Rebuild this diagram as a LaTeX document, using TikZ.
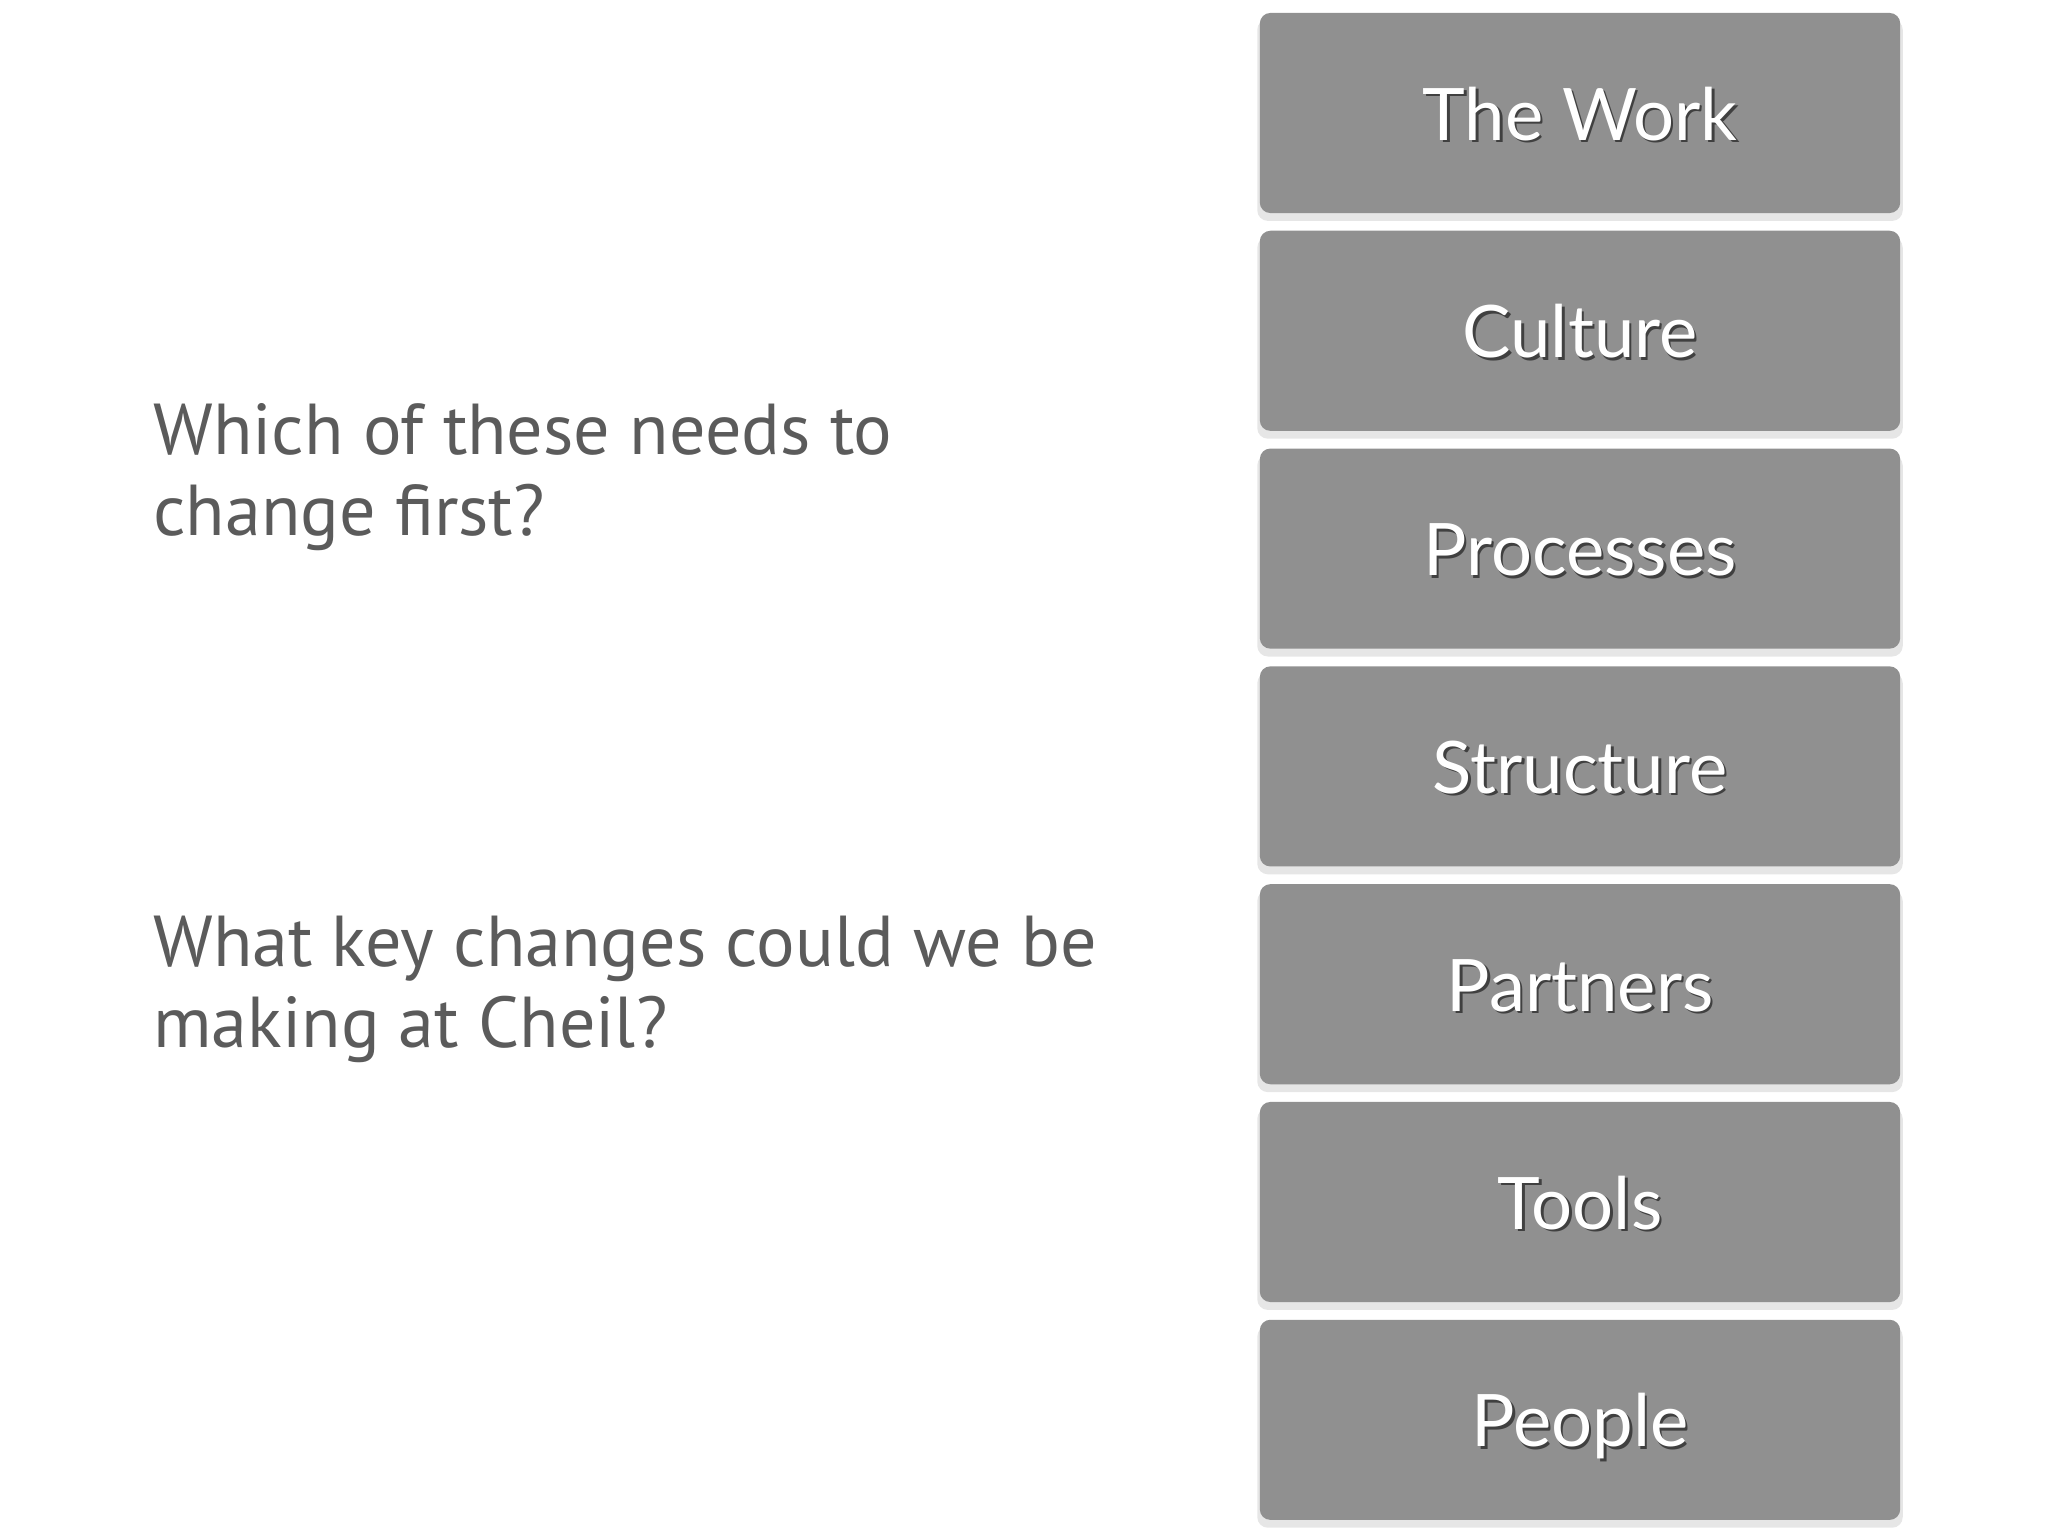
\documentclass[tikz,border=0pt]{standalone}
\usepackage{fontspec}
\setmainfont{PT Sans}
\newfontfamily\layerfont{Lato}
\usetikzlibrary{calc,shadows}
\definecolor{layergray}{HTML}{909090}
\definecolor{asktext}{HTML}{5B5B5B}
\def\layernode{\node[rectangle,rounded corners=3pt,fill=layergray,minimum width=6.4cm,minimum height=2cm,
  drop shadow={shadow xshift=0pt,shadow yshift=-0.7mm,shadow scale=1.008,opacity=0.2}]}
\def\asknode{\node[anchor=base west,align=left,text=asktext,font=\fontsize{20.5}{22.8}\selectfont]}
% white label with a dark shadow just below it
\newcommand{\layerlabel}[2]{%
  \node[anchor=base,text=black,opacity=0.55,font=\layerfont\fontsize{20.6}{24}\selectfont]
    (#1_sh) at ($ (#1.center) + (2.5,-29.5) $) {#2};
  \node[anchor=base,text=white,font=\layerfont\fontsize{20.6}{24}\selectfont]
    (#1_lbl) at ($ (#1.center) + (0,-27) $) {#2};}

\begin{document}
\begin{tikzpicture}[x=0.01cm,y=0.01cm]
\useasboundingbox (0,0) rectangle (2048,-1536);
\coordinate (o) at (1580,-113); % boxes are relative to (o)

% The stack of layers
\layernode (work) at (o) {};
\layernode (culture) at ($ (o) + (0,-217.8) $) {};
\layernode (processes) at ($ (o) + (0,-435.6) $) {};
\layernode (structure) at ($ (o) + (0,-653.4) $) {};
\layernode (partners) at ($ (o) + (0,-871.2) $) {};
\layernode (tools) at ($ (o) + (0,-1089) $) {};
\layernode (people) at ($ (o) + (0,-1306.8) $) {};

\layerlabel{work}{The Work}
\layerlabel{culture}{Culture}
\layerlabel{processes}{Processes}
\layerlabel{structure}{Structure}
\layerlabel{partners}{Partners}
\layerlabel{tools}{Tools}
\layerlabel{people}{People}

% Questions on the left (base is the last line)
\asknode (first) at (141,-535) {Which of these needs to\\change first?};
\asknode (cheil) at (141,-1047) {What key changes could we be\\making at Cheil?};
\end{tikzpicture}
\end{document}
